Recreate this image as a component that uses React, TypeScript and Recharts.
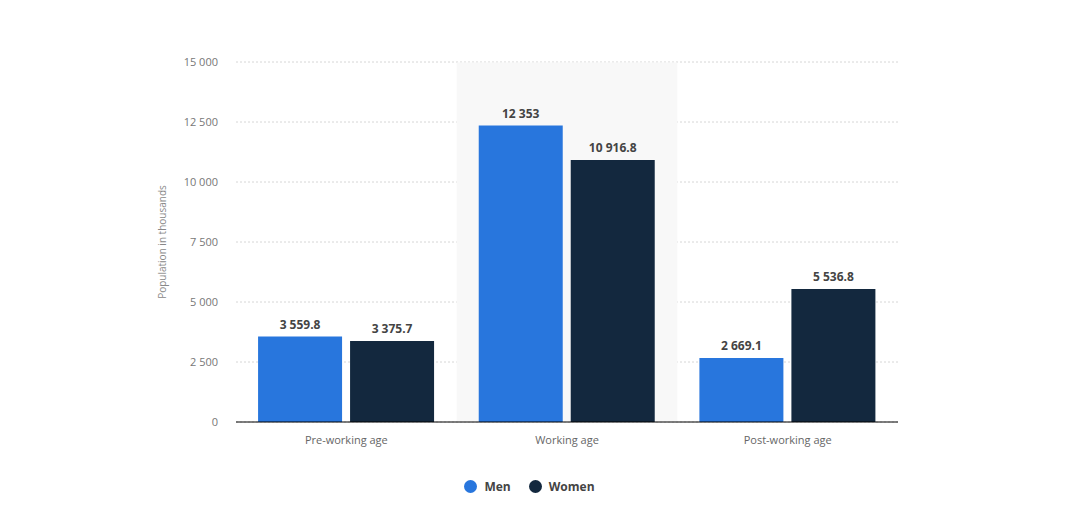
import { BarChart, Bar, XAxis, YAxis, CartesianGrid, Legend, LabelList, Tooltip } from "recharts";

const categories = ["Pre-working age", "Working age", "Post-working age"];
const men = [3559.8, 12353, 2669.1];
const women = [3375.7, 10916.8, 5536.8];
const yTicks = [0, 2500, 5000, 7500, 10000, 12500, 15000];

const MEN_COLOR = "#2876dd";
const WOMEN_COLOR = "#13283e";
const FONT = "'Open Sans', sans-serif";

const data = categories.map((name, i) => ({ name, men: men[i], women: women[i] }));

// thousands separated by a space, keep decimals as they are
const fmt = (v: number) => {
  const [int, dec] = String(v).split(".");
  const withSpaces = int.replace(/\B(?=(\d{3})+(?!\d))/g, " ");
  return dec ? `${withSpaces}.${dec}` : withSpaces;
};

function LegendContent() {
  const items = [
    { label: "Men", color: MEN_COLOR },
    { label: "Women", color: WOMEN_COLOR },
  ];
  return (
    <div style={{ height: 20, display: "flex", justifyContent: "center", alignItems: "center", gap: 18, paddingLeft: 10 }}>
      {items.map(it => (
        <div key={it.label} style={{ display: "flex", alignItems: "center", gap: 7 }}>
          <span style={{ width: 13, height: 13, borderRadius: "50%", background: it.color, display: "inline-block" }} />
          <span style={{ fontFamily: FONT, fontSize: 12, fontWeight: 700, color: "#444" }}>{it.label}</span>
        </div>
      ))}
    </div>
  );
}

export default function App() {
  return (
    <div style={{ position: "absolute", left: 0, top: 0, width: 1080, height: 512, background: "#fff" }}>
      <BarChart
        width={1080}
        height={512}
        data={data}
        margin={{ top: 62, right: 182, bottom: 16, left: 151 }}
        barCategoryGap="10%"
        barGap={8}
      >
        <CartesianGrid vertical={false} stroke="#d6d6d6" strokeDasharray="2 2" />
        <Tooltip
          defaultIndex={1}
          active
          content={() => null}
          cursor={{ fill: "#f8f8f8" }}
          isAnimationActive={false}
        />
        <XAxis
          dataKey="name"
          height={54}
          tickLine={false}
          axisLine={{ stroke: "#000" }}
          tick={{ fill: "#666", fontSize: 11, fontFamily: FONT }}
          tickMargin={8}
        />
        <YAxis
          width={85}
          domain={[0, 15000]}
          ticks={yTicks}
          axisLine={false}
          tickLine={false}
          tickFormatter={fmt}
          tick={{ fill: "#777", fontSize: 11, fontFamily: FONT }}
          tickMargin={12}
          label={{
            value: "Population in thousands",
            angle: -90,
            position: "center",
            dx: -31,
            style: { fill: "#888", fontSize: 10, fontFamily: FONT, textAnchor: "middle" },
          }}
        />
        <Legend verticalAlign="bottom" content={<LegendContent />} />
        <Bar dataKey="men" name="Men" fill={MEN_COLOR} isAnimationActive={false}>
          <LabelList dataKey="men" position="top" offset={8} formatter={(v: number) => fmt(v)}
            style={{ fill: "#444", fontSize: 12, fontWeight: 700, fontFamily: FONT }} />
        </Bar>
        <Bar dataKey="women" name="Women" fill={WOMEN_COLOR} isAnimationActive={false}>
          <LabelList dataKey="women" position="top" offset={8} formatter={(v: number) => fmt(v)}
            style={{ fill: "#444", fontSize: 12, fontWeight: 700, fontFamily: FONT }} />
        </Bar>
      </BarChart>
    </div>
  );
}
